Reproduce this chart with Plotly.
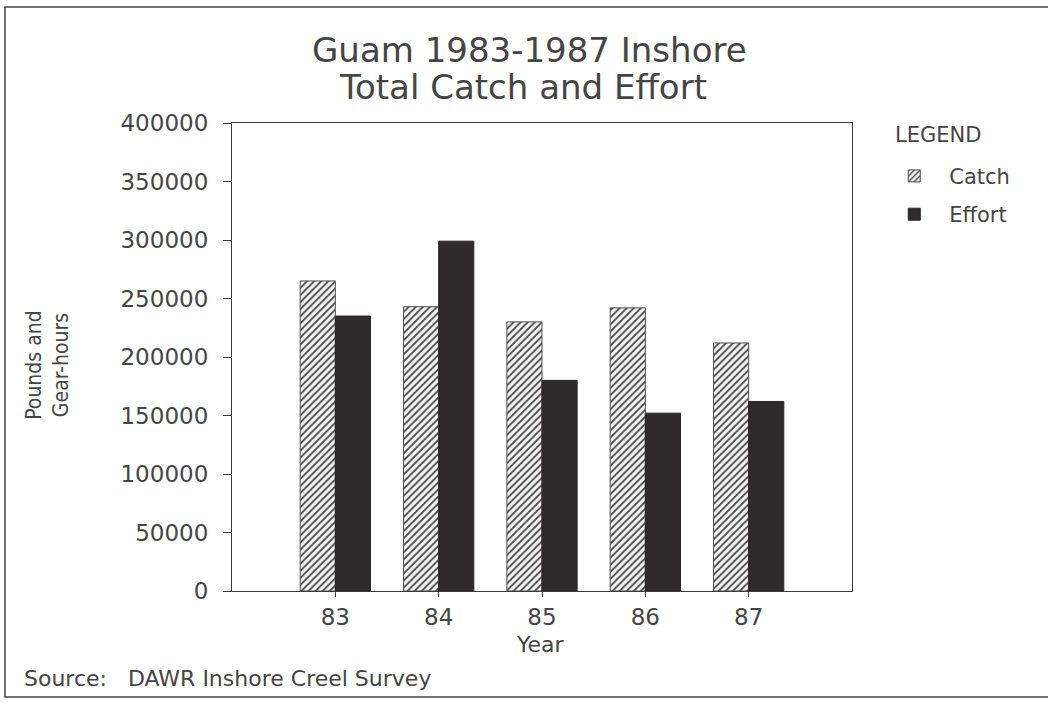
import plotly.graph_objects as go

# Inshore creel survey totals, Guam 1983-1987
years = ["83", "84", "85", "86", "87"]
catch_lbs = [265000, 243000, 230000, 242000, 212000]
effort_gear_hours = [235000, 299000, 180000, 152000, 162000]
y_ticks = [0, 50000, 100000, 150000, 200000, 250000, 300000, 350000, 400000]

TEXT = "#454545"
LINE = "#3c3c3c"
FONT = "DejaVu Sans"

fig = go.Figure()
fig.add_trace(go.Bar(
    name="Catch", x=years, y=catch_lbs, legendgroup="catch",
    marker=dict(
        color="white",
        line=dict(color="#505050", width=1),
        pattern=dict(shape="/", size=5, solidity=0.35,
                     fgcolor="#4a4a4a", bgcolor="#f4f4f4", fillmode="replace"),
    ),
))
fig.add_trace(go.Bar(
    name="Effort", x=years, y=effort_gear_hours, legendgroup="effort",
    marker=dict(color="#2f2a2c", line=dict(color="#2a2627", width=1)),
))

fig.update_layout(
    width=1048, height=703,
    margin=dict(l=232, r=196, t=123, b=112),
    paper_bgcolor="white", plot_bgcolor="white",
    barmode="group", bargap=0.32, bargroupgap=0,
    font=dict(family=FONT, color=TEXT, size=21),
    showlegend=True,
    legend=dict(
        x=1.044, y=0.93, xanchor="left", yanchor="top",
        font=dict(size=21, color=TEXT),
        itemwidth=60, traceorder="grouped", tracegroupgap=8,
        bgcolor="rgba(0,0,0,0)",
    ),
)

fig.update_xaxes(
    type="category", range=[-1, 5],
    showline=True, linecolor=LINE, linewidth=1.2, mirror=True,
    ticks="outside", ticklen=5, tickcolor=LINE,
    showgrid=False, zeroline=False,
    tickfont=dict(size=23, color=TEXT),
)
fig.update_yaxes(
    range=[0, 400000], tickvals=y_ticks,
    ticktext=[str(v) for v in y_ticks],
    showline=True, linecolor=LINE, linewidth=1.2, mirror=True,
    ticks="outside", ticklen=8, tickcolor=LINE, ticklabelstandoff=10,
    showgrid=False, zeroline=False,
    tickfont=dict(size=23, color=TEXT),
)

annotations = [
    dict(text="Guam 1983-1987 Inshore", x=0.48, y=1.156,
         font=dict(size=34, color=TEXT)),
    dict(text="Total Catch and Effort", x=0.47, y=1.077,
         font=dict(size=34, color=TEXT)),
    dict(text="Year", x=0.497, y=-0.115, font=dict(size=22, color=TEXT)),
    dict(text="Pounds and<br>Gear-hours", x=-0.297, y=0.483, textangle=-90,
         font=dict(size=21, color=TEXT,
                   family="Liberation Sans Narrow, DejaVu Sans Condensed, sans-serif")),
    dict(text="Source:   DAWR Inshore Creel Survey", x=-0.339, y=-0.186,
         xanchor="left", font=dict(size=22, color=TEXT)),
    dict(text="LEGEND", x=(893 - 232) / 620, y=(591 - 135) / 468,
         xanchor="left", font=dict(size=21, color=TEXT)),
]
for a in annotations:
    a.setdefault("xanchor", "center")
    a.update(xref="paper", yref="paper", yanchor="middle", showarrow=False)
    fig.add_annotation(**a)

# outer frame around the whole page
fig.add_shape(type="rect", xref="paper", yref="paper",
              x0=(5 - 232) / 620, x1=(1060 - 232) / 620,
              y0=(591 - 697) / 468, y1=(591 - 7) / 468,
              line=dict(color="#444444", width=1.5), fillcolor="rgba(0,0,0,0)")

fig.write_html("out.html")
